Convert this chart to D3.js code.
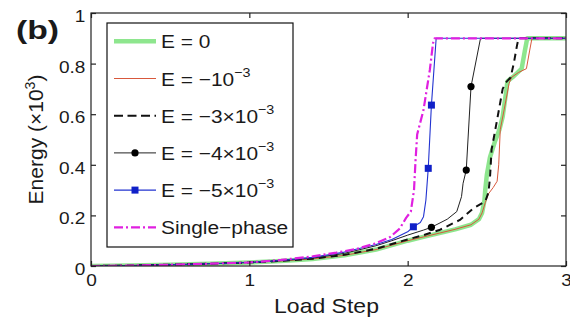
<!DOCTYPE html>
<html><head><meta charset="utf-8">
<script src="https://cdn.jsdelivr.net/npm/d3@7"></script>
<style>
body{margin:0;background:#fff}
text{font-family:"Liberation Sans",Arial,Helvetica,sans-serif;fill:#1a1a1a}
</style>
</head><body>
<svg id="chart" width="570" height="320"></svg>
<script>
// Axis ticks
const xTickValues = [0, 1, 2, 3];
const xTickLabels = ["0", "1", "2", "3"];
const yTickValues = [0, 0.2, 0.4, 0.6, 0.8, 1];
const yTickLabels = ["0", "0.2", "0.4", "0.6", "0.8", "1"];

// Early loading path shared by every run: [load step, energy]
const sharedPath = [[0, 0], [0.25, 0.002], [0.5, 0.005], [0.75, 0.009], [1.0, 0.014]];

// E = 0
const energyE0 = [[1.2, 0.02], [1.4, 0.028], [1.6, 0.042], [1.8, 0.065], [2.0, 0.10], [2.1, 0.115],
  [2.2, 0.13], [2.3, 0.145], [2.4, 0.163], [2.45, 0.185], [2.47, 0.21], [2.485, 0.26], [2.49, 0.30],
  [2.50, 0.36], [2.52, 0.43], [2.55, 0.49], [2.58, 0.54], [2.60, 0.59], [2.62, 0.68], [2.63, 0.73],
  [2.67, 0.75], [2.72, 0.78], [2.74, 0.85], [2.755, 0.9], [3, 0.9]];
// E = -1e-3
const energyE1 = [[1.2, 0.02], [1.4, 0.028], [1.6, 0.042], [1.8, 0.065], [2.0, 0.10], [2.1, 0.115],
  [2.2, 0.13], [2.3, 0.145], [2.4, 0.163], [2.45, 0.185], [2.47, 0.21], [2.49, 0.25], [2.51, 0.285],
  [2.54, 0.31], [2.565, 0.335], [2.575, 0.40], [2.585, 0.54], [2.61, 0.62], [2.64, 0.72], [2.655, 0.745],
  [2.70, 0.765], [2.75, 0.78], [2.77, 0.85], [2.785, 0.9], [3, 0.9]];
// E = -3e-3
const energyE3 = [[1.2, 0.02], [1.4, 0.029], [1.6, 0.044], [1.8, 0.068], [2.0, 0.105], [2.1, 0.122],
  [2.2, 0.142], [2.33, 0.182], [2.415, 0.228], [2.49, 0.255], [2.51, 0.29], [2.52, 0.35], [2.53, 0.46],
  [2.545, 0.51], [2.58, 0.63], [2.60, 0.70], [2.62, 0.725], [2.65, 0.745], [2.67, 0.80], [2.69, 0.87],
  [2.70, 0.9], [3, 0.9]];
// E = -4e-3
const energyE4 = [[1.2, 0.021], [1.4, 0.031], [1.6, 0.05], [1.8, 0.08], [1.9, 0.1], [2.0, 0.122],
  [2.1, 0.142], [2.15, 0.153], [2.25, 0.185], [2.31, 0.215], [2.34, 0.274], [2.35, 0.327], [2.37, 0.379],
  [2.40, 0.709], [2.46, 0.9], [3, 0.9]];
const markersE4 = [[2.15, 0.153], [2.37, 0.379], [2.40, 0.709]];
// E = -5e-3
const energyE5 = [[1.2, 0.022], [1.4, 0.034], [1.6, 0.055], [1.8, 0.085], [1.9, 0.105], [2.0, 0.135],
  [2.036, 0.155], [2.08, 0.172], [2.10, 0.195], [2.115, 0.26], [2.13, 0.386], [2.15, 0.636], [2.18, 0.9],
  [3, 0.9]];
const markersE5 = [[2.036, 0.155], [2.13, 0.386], [2.15, 0.636]];
// Single-phase model
const energySingle = [[1.2, 0.024], [1.4, 0.038], [1.55, 0.053], [1.68, 0.068], [1.80, 0.09],
  [1.89, 0.115], [1.95, 0.148], [1.99, 0.19], [2.02, 0.215], [2.04, 0.30], [2.05, 0.42], [2.06, 0.52],
  [2.10, 0.617], [2.14, 0.775], [2.16, 0.88], [2.17, 0.9], [3, 0.9]];

const svg = d3.select("#chart");
const m = {left: 91, right: 566, top: 13, bottom: 266};
const x = d3.scaleLinear().domain([0, 3]).range([m.left, m.right]);
const y = d3.scaleLinear().domain([0, 1]).range([m.bottom, m.top]);

const styles = [
  {data: energyE0, color: "#8ee68e", width: 4.5, dash: null, marker: null},
  {data: energyE1, color: "#d8583c", width: 1, dash: null, marker: null},
  {data: energyE3, color: "#111", width: 2, dash: "7,5", marker: null},
  {data: energyE4, color: "#222", width: 1, dash: null, marker: "dot", pts: markersE4},
  {data: energyE5, color: "#2233d0", width: 1.1, dash: null, marker: "square", pts: markersE5},
  {data: energySingle, color: "#e020e0", width: 2.2, dash: "9,3,2,3", marker: null}
];

const line = d3.line().x(d => x(d[0])).y(d => y(d[1]));

const plot = svg.append("g");
plot.append("defs").append("clipPath").attr("id", "clip")
  .append("rect").attr("x", m.left).attr("y", m.top)
  .attr("width", m.right - m.left).attr("height", m.bottom - m.top);
const curves = plot.append("g").attr("clip-path", "url(#clip)");

styles.forEach(s => {
  curves.append("path")
    .attr("d", line(sharedPath.concat(s.data)))
    .attr("fill", "none")
    .attr("stroke", s.color)
    .attr("stroke-width", s.width)
    .attr("stroke-dasharray", s.dash)
    .attr("stroke-linejoin", "round");
  if (s.marker === "dot") {
    curves.selectAll(null).data(s.pts).enter().append("circle")
      .attr("cx", d => x(d[0])).attr("cy", d => y(d[1])).attr("r", 3.6)
      .attr("fill", "#000");
  } else if (s.marker === "square") {
    curves.selectAll(null).data(s.pts).enter().append("rect")
      .attr("x", d => x(d[0]) - 3.5).attr("y", d => y(d[1]) - 3.5)
      .attr("width", 7).attr("height", 7).attr("fill", "#1020c8");
  }
});

// Frame and inward ticks on all sides
svg.append("rect").attr("x", m.left).attr("y", m.top)
  .attr("width", m.right - m.left).attr("height", m.bottom - m.top)
  .attr("fill", "none").attr("stroke", "#222").attr("stroke-width", 1.2);

function styleAxis(g) {
  g.select(".domain").remove();
  g.selectAll(".tick line").attr("stroke", "#222").attr("stroke-width", 1.2);
  g.selectAll(".tick text").attr("font-size", 17).attr("fill", "#1a1a1a")
    .attr("font-family", "Liberation Sans, Arial, sans-serif");
}
const axisB = svg.append("g").attr("transform", `translate(0,${m.bottom})`)
  .call(d3.axisBottom(x).tickValues(xTickValues).tickSize(-5).tickPadding(8)
    .tickFormat((d, i) => xTickLabels[i]));
styleAxis(axisB);
axisB.selectAll(".tick text").attr("transform", "scale(1.12,1)");
const axisT = svg.append("g").attr("transform", `translate(0,${m.top})`)
  .call(d3.axisTop(x).tickValues(xTickValues).tickSize(-5).tickFormat(""));
styleAxis(axisT);
const axisL = svg.append("g").attr("transform", `translate(${m.left},0)`)
  .call(d3.axisLeft(y).tickValues(yTickValues).tickSize(-5).tickPadding(5)
    .tickFormat((d, i) => yTickLabels[i]));
styleAxis(axisL);
axisL.selectAll(".tick text").attr("transform", "scale(1.12,1) translate(0,3)");
const axisR = svg.append("g").attr("transform", `translate(${m.right},0)`)
  .call(d3.axisRight(y).tickValues(yTickValues).tickSize(-5).tickFormat(""));
styleAxis(axisR);

// Axis titles
svg.append("text").attr("transform", `translate(${(m.left + m.right) / 2 - 2},313) scale(1.15,1)`)
  .attr("text-anchor", "middle").attr("font-size", 20).text("Load Step");
const yt = svg.append("text").attr("transform", `translate(43,${(m.top + m.bottom) / 2}) rotate(-90)`)
  .attr("text-anchor", "middle").attr("font-size", 21);
yt.append("tspan").text("Energy (×10");
yt.append("tspan").attr("font-size", 14).attr("dy", -8).text("3");
yt.append("tspan").attr("dy", 8).text(")");

// Panel tag
svg.append("text").attr("transform", "translate(16,39) scale(1.35,1)")
  .attr("font-size", 25).attr("font-weight", "bold").text("(b)");

// Legend
const legendEntries = [
  {base: "E = 0", exp: null},
  {base: "E = \u221210", exp: "\u22123"},
  {base: "E = \u22123\u00d710", exp: "\u22123"},
  {base: "E = \u22124\u00d710", exp: "\u22123"},
  {base: "E = \u22125\u00d710", exp: "\u22123"},
  {base: "Single\u2212phase", exp: null}
];
const lg = svg.append("g");
lg.append("rect").attr("x", 107).attr("y", 23).attr("width", 186).attr("height", 224)
  .attr("fill", "#fff").attr("stroke", "#111").attr("stroke-width", 1.2);
legendEntries.forEach((e, i) => {
  const s = styles[i];
  const cy = 41.3 + i * 37.2;
  lg.append("line").attr("x1", 114).attr("x2", 156).attr("y1", cy).attr("y2", cy)
    .attr("stroke", s.color).attr("stroke-width", s.width)
    .attr("stroke-dasharray", s.dash === "7,5" ? "9,4.5" : s.dash);
  if (s.marker === "dot") {
    lg.append("circle").attr("cx", 135).attr("cy", cy).attr("r", 3.6).attr("fill", "#000");
  } else if (s.marker === "square") {
    lg.append("rect").attr("x", 131.5).attr("y", cy - 3.5).attr("width", 7).attr("height", 7)
      .attr("fill", "#1020c8");
  }
  const t = lg.append("text").attr("transform", `translate(161,${cy + 7}) scale(1.1,1)`)
    .attr("font-size", 19);
  t.append("tspan").text(e.base);
  if (e.exp) t.append("tspan").attr("font-size", 13).attr("dy", -9).text(e.exp);
});
</script>
</body></html>
